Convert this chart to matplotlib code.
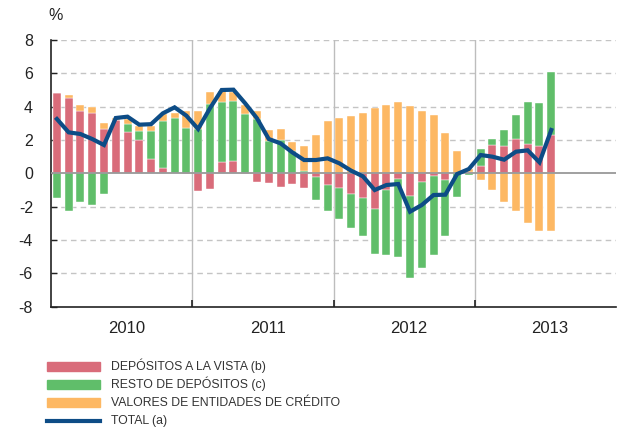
#!/usr/bin/env python3
"""Contribución a la tasa de variación: depósitos y valores de entidades de crédito."""

import numpy as np
import matplotlib

matplotlib.use("Agg")
import matplotlib.pyplot as plt
from matplotlib import font_manager
from matplotlib.patches import Rectangle
from matplotlib.lines import Line2D

# Monthly data, Jan 2010 - Jul 2013 (%)
vista = [4.80, 4.54, 3.72, 3.60, 2.64, 3.20, 2.48, 2.00, 0.86, 0.30, 0.00, -0.06,
         -1.06, -0.96, 0.66, 0.76, -0.06, -0.54, -0.56, -0.84, -0.62, -0.90, -0.24, -0.68,
         -0.88, -1.24, -1.48, -2.16, -0.98, -0.34, -1.34, -0.54, -0.14, -0.40, 0.00, 0.10,
         0.46, 1.70, 1.66, 2.06, 1.76, 1.66, 2.30]
resto = [-1.50, -2.24, -1.72, -1.88, -1.26, 0.00, 0.48, 0.56, 1.66, 2.86, 3.30, 2.70,
         2.66, 4.14, 3.60, 3.56, 3.54, 3.26, 1.96, 2.00, 1.36, 0.16, -1.34, -1.60,
         -1.84, -2.04, -2.28, -2.68, -3.90, -4.66, -4.94, -5.16, -4.74, -3.36, -1.44, -0.10,
         1.00, 0.34, 0.94, 1.44, 2.54, 2.56, 3.80]
valores = [0.05, 0.16, 0.38, 0.36, 0.36, 0.12, 0.30, 0.30, 0.30, 0.40, 0.30, 1.06,
           1.10, 0.74, 0.70, 0.58, 0.58, 0.50, 0.64, 0.66, 0.50, 1.50, 2.32, 3.12,
           3.32, 3.46, 3.60, 3.90, 4.12, 4.28, 4.04, 3.76, 3.50, 2.44, 1.36, 0.15,
           -0.38, -1.00, -1.70, -2.26, -2.96, -3.46, -3.46]
total = [3.26, 2.46, 2.36, 2.06, 1.70, 3.32, 3.40, 2.92, 2.95, 3.60, 3.96, 3.46,
         2.66, 3.90, 5.00, 5.02, 4.20, 3.30, 2.06, 1.80, 1.26, 0.80, 0.80, 0.90,
         0.60, 0.16, -0.18, -1.00, -0.70, -0.64, -2.30, -1.90, -1.30, -1.28, -0.04, 0.26,
         1.10, 1.00, 0.82, 1.30, 1.38, 0.66, 2.60]
years = ["2010", "2011", "2012", "2013"]
legend_labels = [
    "DEPÓSITOS A LA VISTA (b)",
    "RESTO DE DEPÓSITOS (c)",
    "VALORES DE ENTIDADES DE CRÉDITO",
    "TOTAL (a)",
]

RED = "#D96C7A"
GREEN = "#60BE6A"
ORANGE = "#FDB863"
NAVY = "#0D4C86"

installed = {f.name for f in font_manager.fontManager.ttflist}
BASE_FONT = "Liberation Sans" if "Liberation Sans" in installed else "DejaVu Sans"
# the original legend uses a condensed face; take one if it is there
NARROW_FONT = "Liberation Sans Narrow" if "Liberation Sans Narrow" in installed else BASE_FONT
LEGEND_SIZE = 10 if NARROW_FONT != BASE_FONT else 8.8
plt.rcParams["font.family"] = BASE_FONT
plt.rcParams["axes.unicode_minus"] = False

W, H = 617, 434
fig = plt.figure(figsize=(W / 100, H / 100), dpi=100)
ax = fig.add_axes([51 / W, 127.3 / H, 565 / W, 266.7 / H])

x = np.arange(len(total))
pos = np.zeros(len(x))
neg = np.zeros(len(x))
for vals, color in [(vista, RED), (resto, GREEN), (valores, ORANGE)]:
    vals = np.asarray(vals)
    bottom = np.where(vals >= 0, pos, neg)
    ax.bar(x, vals, width=0.68, bottom=bottom, color=color,
           edgecolor="white", linewidth=0.3, zorder=2)
    pos += np.clip(vals, 0, None)
    neg += np.clip(vals, None, 0)

ax.plot(x, total, color=NAVY, linewidth=3.0, solid_joinstyle="miter", zorder=4)

ax.set_xlim(-0.5, 47.5)
ax.set_ylim(-8, 8)

# grid and reference lines
for y in [-6, -4, -2, 2, 4, 6, 8]:
    ax.axhline(y, color="#C4C4C4", linewidth=1.0, linestyle=(0, (4, 3)), zorder=0)
ax.axhline(0, color="#999999", linewidth=1.3, zorder=3)
for b in [11.5, 23.5, 35.5]:
    ax.axvline(b, color="#BDBDBD", linewidth=1.0, zorder=1)

for side in ["top", "right"]:
    ax.spines[side].set_visible(False)
for side in ["left", "bottom"]:
    ax.spines[side].set_linewidth(1.2)
    ax.spines[side].set_color("#222222")

ax.set_yticks(range(-8, 9, 2))
ax.tick_params(axis="y", direction="in", length=4, width=1, labelsize=11.5,
               pad=13, colors="#222222")
ax.set_xticks([5.9, 17.9, 29.9, 41.9])
ax.set_xticklabels(years)
ax.tick_params(axis="x", which="major", length=0, labelsize=12, pad=10,
               colors="#222222")
ax.set_xticks([11.5, 23.5, 35.5], minor=True)
ax.tick_params(axis="x", which="minor", direction="in", length=5, width=1.2,
               color="#222222")

fig.text(56 / W, 1 - 16 / H, "%", ha="center", va="center", fontsize=11.5,
         color="#222222")

# legend drawn by hand
rows_y = [366, 384, 402.7, 420.7]
for i, (label, color) in enumerate(zip(legend_labels, [RED, GREEN, ORANGE, NAVY])):
    yc = 1 - rows_y[i] / H
    if i < 3:
        fig.patches.append(Rectangle((47 / W, yc - 4.5 / H), 53 / W, 9 / H,
                                     transform=fig.transFigure, color=color))
    else:
        fig.lines.append(Line2D([47 / W, 100 / W], [yc, yc], transform=fig.transFigure,
                                color=color, linewidth=3.0))
    fig.text(111 / W, yc, label, ha="left", va="center", fontsize=LEGEND_SIZE,
             family=NARROW_FONT, color="#333333")

plt.savefig("out.png", dpi=100)
plt.close()
